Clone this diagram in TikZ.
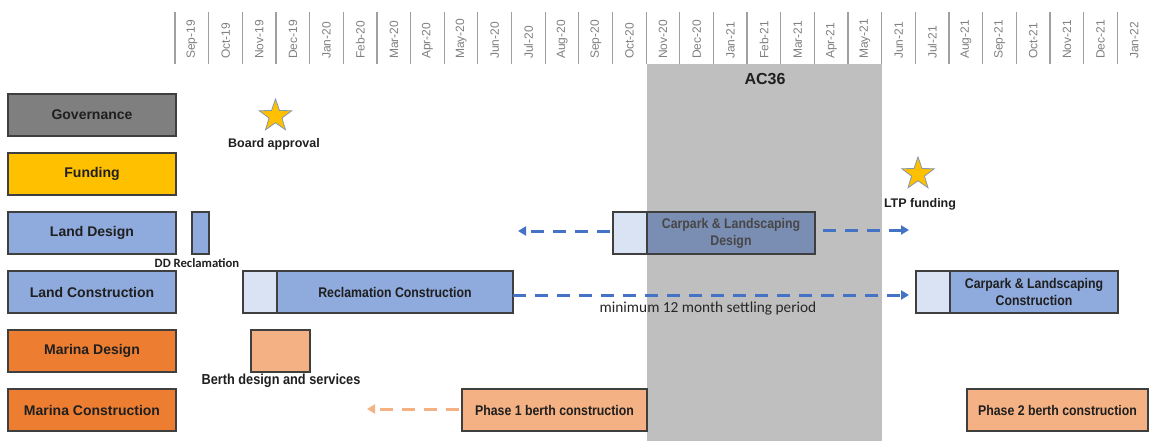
\documentclass[tikz,border=0pt]{standalone}
\usepackage{fontspec}
\setmainfont{Liberation Sans}
\newfontfamily\narrowfont[FakeStretch=0.88]{Liberation Sans}
\newfontfamily\calfont{Carlito}
\usetikzlibrary{positioning,shapes.geometric,arrows.meta}

\definecolor{govgray}{HTML}{7F7F7F}
\definecolor{fundgold}{HTML}{FFC000}
\definecolor{landblue}{HTML}{8FAADC}
\definecolor{paleblue}{HTML}{DAE3F3}
\definecolor{darkblue}{HTML}{7A8DB3}
\definecolor{marorange}{HTML}{ED7D31}
\definecolor{lightorange}{HTML}{F4B183}
\definecolor{arrowblue}{HTML}{4472C4}
\definecolor{bandgray}{HTML}{BFBFBF}
\definecolor{edgegray}{HTML}{3F3F3F}
\definecolor{stargray}{HTML}{8497B0}

\begin{document}
\begin{tikzpicture}[x=1pt, y=-1pt, >=latex]
    \tikzset{
        bar/.style={draw=edgegray, line width=1.2pt, minimum height=42pt, inner sep=0pt, outer sep=0pt, align=center, text=black!88, font=\narrowfont\bfseries\fontsize{14}{17}\selectfont},
        rowbox/.style={bar, minimum width=168pt, font=\bfseries\fontsize{14}{17}\selectfont},
        pale/.style={bar, fill=paleblue, minimum width=34pt},
        month/.style={rotate=90, anchor=west, text=govgray, inner sep=0pt, font=\fontsize{12}{12}\selectfont},
        note/.style={inner sep=0pt, text=black!88, font=\bfseries\fontsize{12.5}{14}\selectfont},
        milestone/.style={star, star points=5, star point ratio=2.5, minimum size=34pt, inner sep=0pt, fill=fundgold, draw=stargray, line width=0.8pt},
        flow/.style={line width=3pt, dash pattern=on 13pt off 9pt, -{Triangle[length=8pt,width=9pt]}}
    }
    \useasboundingbox (0,0) rectangle (1149,441);

    % AC36 window
    \fill[bandgray] (647,64) rectangle (882,441);
    \node[inner sep=0pt, font=\bfseries\fontsize{16}{16}\selectfont, text=black!88] (ac) at (765,79) {AC36};

    % month scale
    \foreach \m [count=\i from 0] in {Sep-19,Oct-19,Nov-19,Dec-19,Jan-20,Feb-20,Mar-20,Apr-20,May-20,Jun-20,Jul-20,Aug-20,Sep-20,Oct-20,Nov-20,Dec-20,Jan-21,Feb-21,Mar-21,Apr-21,May-21,Jun-21,Jul-21,Aug-21,Sep-21,Oct-21,Nov-21,Dec-21,Jan-22} {
        \draw[govgray!75, line width=1.2pt] (175+33.65*\i,12) -- (175+33.65*\i,64);
        \node[month] (m\i) at (192+33.65*\i,59) {\m};
    }

    % workstreams
    \node[rowbox, fill=govgray] (gov) at (92,115) {Governance};
    \node[rowbox, fill=fundgold] (fund) at (92,174) {Funding};
    \node[rowbox, fill=landblue] (landdes) at (92,233) {Land Design};
    \node[rowbox, fill=landblue] (landcon) at (92,292) {Land Construction};
    \node[rowbox, fill=marorange] (mardes) at (92,351) {Marina Design};
    \node[rowbox, fill=marorange] (marcon) at (92,410) {Marina Construction};

    % milestones
    \node[milestone] (boardstar) at (275.5,116) {};
    \node[note] (boardlabel) at (274,144) {Board approval};
    \node[milestone] (ltpstar) at (918,174) {};
    \node[note] (ltplabel) at (920,204) {LTP funding};

    % land
    \node[bar, fill=landblue, minimum width=17pt] (ddrecl) at (200.5,233) {};
    \node[note, font=\calfont\bfseries\fontsize{12.7}{14}\selectfont] (ddlabel) at (197,263) {DD Reclamation};
    \node[pale] (reclpale) at (260,292) {};
    \node[bar, fill=landblue, minimum width=236pt] (recl) at (395,292) {Reclamation Construction};
    \node[pale] (cpdpale) at (630,233) {};
    \node[bar, fill=darkblue, minimum width=168pt, text=black!72] (cpdes) at (731,233) {Carpark \& Landscaping\\Design};
    \node[pale] (cpcpale) at (933,292) {};
    \node[bar, fill=landblue, minimum width=168pt] (cpcon) at (1034,292) {Carpark \& Landscaping\\Construction};

    % marina
    \node[bar, fill=lightorange, minimum width=59pt] (berthdes) at (280.5,351) {};
    \node[note, font=\narrowfont\bfseries\fontsize{14.5}{16}\selectfont] (berthlabel) at (281,381) {Berth design and services};
    \node[bar, fill=lightorange, minimum width=185pt] (phaseone) at (554.5,410) {Phase 1 berth construction};
    \node[bar, fill=lightorange, minimum width=181pt] (phasetwo) at (1057.5,410) {Phase 2 berth construction};

    % float and settling
    \coordinate (cpdleft) at (518,231);
    \coordinate (cpdright) at (909,230);
    \coordinate (phaseleft) at (367,409);
    \draw[flow, arrowblue, shorten <=3pt] ([yshift=2pt]cpdpale.west) -- (cpdleft);
    \draw[flow, arrowblue, shorten <=8pt] ([yshift=3pt]cpdes.east) -- (cpdright);
    \draw[flow, arrowblue, shorten >=7pt] ([yshift=-3pt]recl.east) -- ([yshift=-3pt]cpcpale.west);
    \node[inner sep=0pt, text=black!85, font=\calfont\fontsize{15.3}{16}\selectfont] (settle) at (708,309) {minimum 12 month settling period};
    \draw[flow, lightorange, shorten <=3pt] ([yshift=1pt]phaseone.west) -- (phaseleft);
\end{tikzpicture}
\end{document}
